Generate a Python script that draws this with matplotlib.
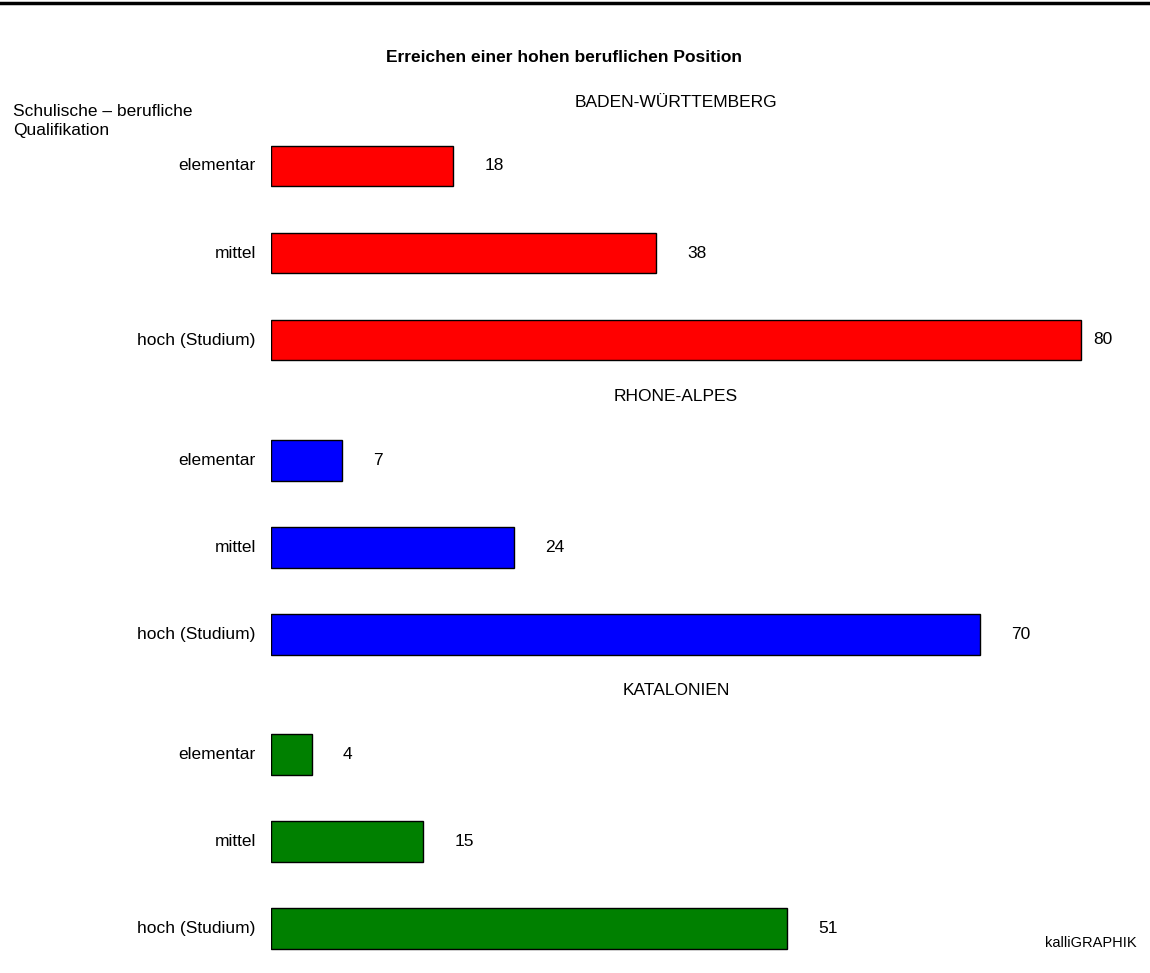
import matplotlib.pyplot as plt
import numpy as np

plt.rcParams['font.family'] = ['Liberation Sans', 'DejaVu Sans']

regions = ["BADEN-WÜRTTEMBERG", "RHONE-ALPES", "KATALONIEN"]
levels = ["elementar", "mittel", "hoch (Studium)"]
values = [
    [18, 38, 80],
    [7, 24, 70],
    [4, 15, 51],
]
colors = ["#ff0000", "#0000ff", "#008000"]

W, H = 1150, 973
fig = plt.figure(figsize=(W / 100, H / 100), dpi=100)

# axes starts where the bars start; 10.125 px per unit
px_per_unit = 10.125
left = 271
ax = fig.add_axes([left / W, 0, (W - left) / W, 1])
ax.set_xlim(0, (W - left) / px_per_unit)
# y in "slot" units of 87 px, slot 0 at pixel 166
ax.set_ylim((H - 166) / 87, -166 / 87)
ax.axis("off")

group_step = 3.38
for g, (region, vals, col) in enumerate(zip(regions, values, colors)):
    ys = g * group_step + np.arange(len(vals))
    ax.barh(ys, vals, height=0.47, color=col, edgecolor="black", linewidth=1)
    ax.text(40, g * group_step - 0.73, region, ha="center", va="center", fontsize=12.5)
    for y, v, lab in zip(ys, vals, levels):
        ax.text(min(v + 3.1, 81.2), y, str(v), ha="left", va="center", fontsize=12.5)
        ax.text(-1.5, y, lab, ha="right", va="center", fontsize=12.5)

fig.text(0.49, 1 - 58 / H, "Erreichen einer hohen beruflichen Position",
         ha="center", va="center", fontsize=12.5, fontweight="bold")
fig.text(13 / W, 1 - 121 / H, "Schulische \u2013 berufliche\nQualifikation",
         ha="left", va="center", fontsize=12.5, linespacing=1.4)
fig.text(1137 / W, 1 - 943 / H, "kalliGRAPHIK", ha="right", va="center", fontsize=10.5)
fig.add_artist(plt.Line2D([0, 1], [1 - 2.5 / H, 1 - 2.5 / H], color="black", linewidth=2.5))

fig.savefig("out.png", dpi=100)
